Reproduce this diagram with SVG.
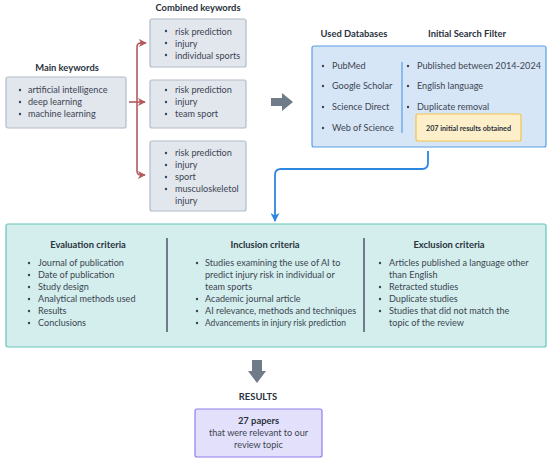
<svg xmlns="http://www.w3.org/2000/svg" width="550" height="462" viewBox="0 0 550 462">
<defs>
<style>
text{font-family:Lato,"Open Sans","Liberation Sans",sans-serif;fill:#3c4552;font-size:9.1px}
.t{font-weight:bold;fill:#2a323d;text-anchor:middle;font-size:9.4px}
.c{text-anchor:middle}
.gray{fill:#e2e6ed;stroke:#b3bcc8;stroke-width:1.2}
.bul{fill:#3c4552}
</style>
<marker id="ar" viewBox="0 0 10 10" refX="9" refY="5" markerWidth="5" markerHeight="5" orient="auto"><path d="M0,0 L10,5 L0,10 L3,5 z" fill="#b25a5e"/></marker>
<marker id="ab" viewBox="0 0 10 10" refX="9" refY="5" markerWidth="5" markerHeight="5" orient="auto"><path d="M0,0 L10,5 L0,10 L3,5 z" fill="#2f86e0"/></marker>
</defs>
<rect width="550" height="462" fill="#fff"/>

<g id="connectors">
<g fill="none" stroke="#b25a5e" stroke-width="1.6">
<path d="M129,102 H145" marker-end="url(#ar)"/>
<path d="M145,43 H141 Q137,43 137,47 V171 Q137,175 141,175 H145" marker-end="url(#ar)"/>
<path d="M140,43 H146" marker-end="url(#ar)"/>
</g>
<path d="M271,98 H282 V93 L293,102 L282,111 V106 H271 z" fill="#6f7b89"/>
<path d="M428,151 V163 Q428,169 422,169 H281 Q275,169 275,175 V221" fill="none" stroke="#2f86e0" stroke-width="1.8" marker-end="url(#ab)"/>
<path d="M252,360 H262 V371 H266 L257,383 L248,371 H252 z" fill="#6f7b89"/>
</g>

<g id="main-keywords">
<text class="t" x="67" y="71">Main keywords</text>
<rect class="gray" x="6" y="77" width="120" height="51" rx="2"/>
<g class="bul"><circle cx="20" cy="90" r="1.2"/><circle cx="20" cy="102" r="1.2"/><circle cx="20" cy="114" r="1.2"/></g>
<text x="28" y="93">artificial intelligence</text>
<text x="28" y="105">deep learning</text>
<text x="28" y="117">machine learning</text>
</g>

<g id="combined-keywords">
<text class="t" x="198" y="11">Combined keywords</text>
<rect class="gray" x="150" y="19" width="96" height="48" rx="2"/>
<g class="bul"><circle cx="166" cy="31" r="1.2"/><circle cx="166" cy="43" r="1.2"/><circle cx="166" cy="55" r="1.2"/></g>
<text x="175" y="35">risk prediction</text>
<text x="175" y="47">injury</text>
<text x="175" y="59">individual sports</text>
<rect class="gray" x="150" y="80" width="96" height="48" rx="2"/>
<g class="bul"><circle cx="166" cy="90" r="1.2"/><circle cx="166" cy="102" r="1.2"/><circle cx="166" cy="114" r="1.2"/></g>
<text x="175" y="93">risk prediction</text>
<text x="175" y="105">injury</text>
<text x="175" y="117">team sport</text>
<rect class="gray" x="150" y="141" width="96" height="70" rx="2"/>
<g class="bul"><circle cx="166" cy="153" r="1.2"/><circle cx="166" cy="165" r="1.2"/><circle cx="166" cy="177" r="1.2"/><circle cx="166" cy="189" r="1.2"/></g>
<text x="175" y="156">risk prediction</text>
<text x="175" y="168">injury</text>
<text x="175" y="180">sport</text>
<text x="175" y="192">musculoskeletol</text>
<text x="175" y="204">injury</text>
</g>

<g id="databases">
<text class="t" x="354" y="37">Used Databases</text>
<text class="t" x="467" y="37">Initial Search Filter</text>
<rect x="312" y="46" width="234" height="101" rx="2" fill="#d7e6f6" stroke="#5a9de6" stroke-width="1.2"/>
<line x1="402" y1="62" x2="402" y2="133" stroke="#5a9de6" stroke-width="1.2"/>
<g class="bul"><circle cx="323" cy="66" r="1.2"/><circle cx="323" cy="86" r="1.2"/><circle cx="323" cy="107" r="1.2"/><circle cx="323" cy="128" r="1.2"/><circle cx="408" cy="66" r="1.2"/><circle cx="408" cy="86" r="1.2"/><circle cx="408" cy="107" r="1.2"/></g>
<text x="332" y="69">PubMed</text>
<text x="332" y="89">Google Scholar</text>
<text x="332" y="110">Science Direct</text>
<text x="332" y="131">Web of Science</text>
<text x="417" y="69">Published between 2014-2024</text>
<text x="417" y="89">English language</text>
<text x="417" y="110">Duplicate removal</text>
</g>

<g id="initial-results">
<rect x="416" y="114" width="105" height="27" rx="2" fill="#fcefc9" stroke="#f3c44a" stroke-width="1.2"/>
<text class="t" x="468.5" y="130.5" style="font-size:7.2px">207 initial results obtained</text>
</g>

<g id="criteria">
<rect x="6" y="224" width="540" height="123" rx="2" fill="#d3eeec" stroke="#63c5b8" stroke-width="1.2"/>
<line x1="167" y1="238" x2="167" y2="332" stroke="#6f7b89" stroke-width="2"/>
<line x1="364" y1="238" x2="364" y2="332" stroke="#6f7b89" stroke-width="2"/>
<text class="t" x="88" y="248">Evaluation criteria</text>
<g class="bul"><circle cx="29" cy="263" r="1.2"/><circle cx="29" cy="275" r="1.2"/><circle cx="29" cy="287" r="1.2"/><circle cx="29" cy="299" r="1.2"/><circle cx="29" cy="311" r="1.2"/><circle cx="29" cy="323" r="1.2"/></g>
<text x="38" y="266">Journal of publication</text>
<text x="38" y="278">Date of publication</text>
<text x="38" y="290">Study design</text>
<text x="38" y="302">Analytical methods used</text>
<text x="38" y="314">Results</text>
<text x="38" y="326">Conclusions</text>
<text class="t" x="265" y="248">Inclusion criteria</text>
<g class="bul"><circle cx="197" cy="263" r="1.2"/><circle cx="197" cy="299" r="1.2"/><circle cx="197" cy="311" r="1.2"/><circle cx="197" cy="323" r="1.2"/></g>
<text x="205" y="266">Studies examining the use of AI to</text>
<text x="205" y="278">predict injury risk in individual or</text>
<text x="205" y="290">team sports</text>
<text x="205" y="302">Academic journal article</text>
<text x="205" y="314">AI relevance, methods and techniques</text>
<text x="205" y="326" textLength="141" lengthAdjust="spacingAndGlyphs">Advancements in injury risk prediction</text>
<text class="t" x="449" y="248">Exclusion criteria</text>
<g class="bul"><circle cx="380" cy="263" r="1.2"/><circle cx="380" cy="287" r="1.2"/><circle cx="380" cy="299" r="1.2"/><circle cx="380" cy="311" r="1.2"/></g>
<text x="389" y="266">Articles published a language other</text>
<text x="389" y="278">than English</text>
<text x="389" y="290">Retracted studies</text>
<text x="389" y="302">Duplicate studies</text>
<text x="389" y="314">Studies that did not match the</text>
<text x="389" y="326">topic of the review</text>
</g>

<g id="results">
<text class="t" x="258" y="400">RESULTS</text>
<rect x="195" y="409" width="127" height="48" rx="2" fill="#e3e0fb" stroke="#8d7ff0" stroke-width="1.2"/>
<text class="t" x="258.5" y="424">27 papers</text>
<text class="c" x="258.5" y="436">that were relevant to our</text>
<text class="c" x="258.5" y="448">review topic</text>
</g>
</svg>
